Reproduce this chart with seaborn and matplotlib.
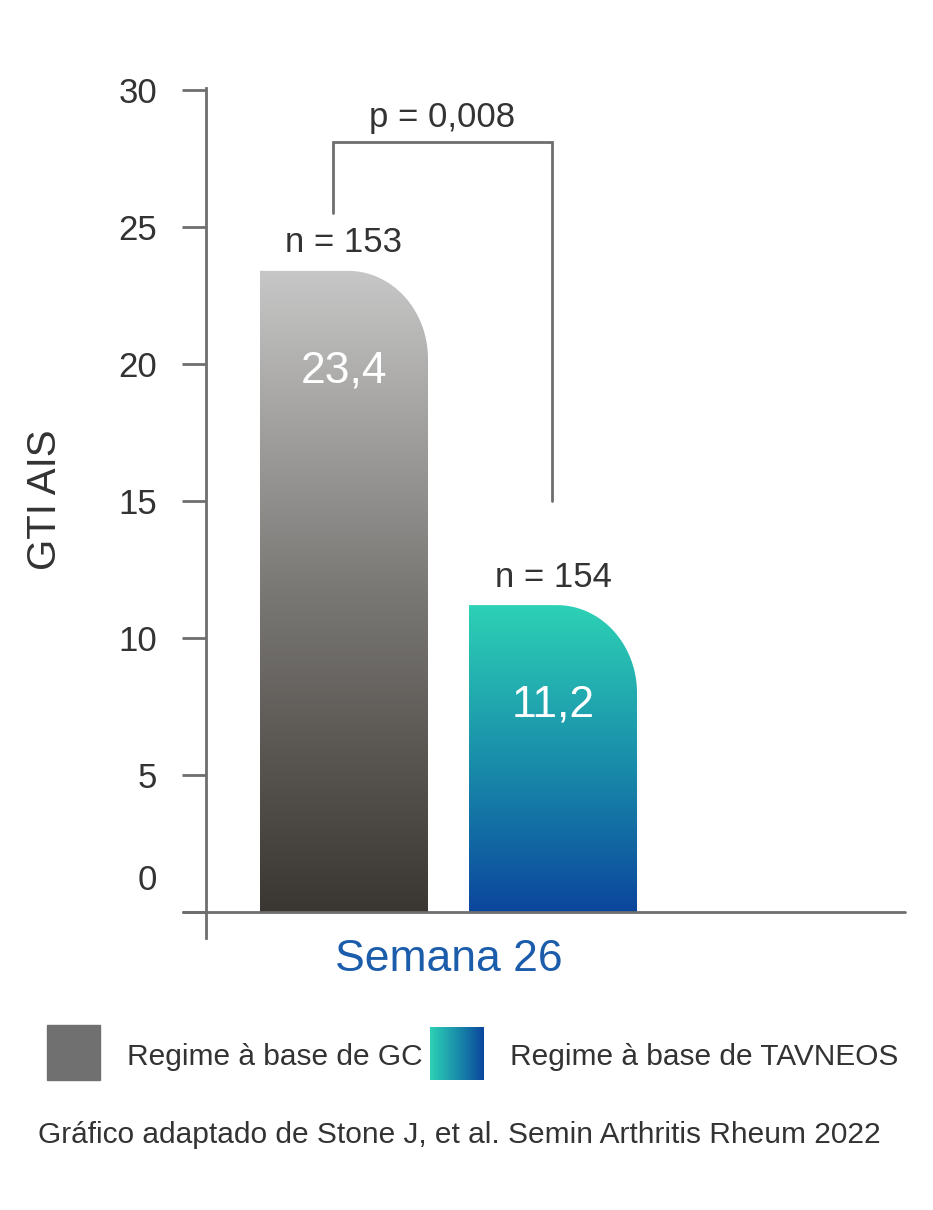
import numpy as np
import pandas as pd
import matplotlib
matplotlib.use('Agg')
import matplotlib.pyplot as plt
import seaborn as sns
from matplotlib.path import Path
from matplotlib.patches import PathPatch, Rectangle
from matplotlib.colors import LinearSegmentedColormap

# dados do gráfico
grupos = ['Regime à base de GC', 'Regime à base de TAVNEOS']
valores = [23.4, 11.2]
rotulos_valor = ['23,4', '11,2']
rotulos_n = ['n = 153', 'n = 154']
semana = 'Semana 26'
p_valor = 'p = 0,008'
y_ticks = [0, 5, 10, 15, 20, 25, 30]
fonte = 'Gráfico adaptado de Stone J, et al. Semin Arthritis Rheum 2022'

# gradientes (de baixo para cima)
cores_gc = ['#3a3631', '#7a7875', '#c7c7c7']
cores_tav = ['#0b469c', '#1a8fab', '#2dd1b5']
cor_texto = '#333333'
cor_eixo = '#6e6e6e'

sns.set_theme(style='white')
plt.rcParams['font.family'] = ['Liberation Sans', 'DejaVu Sans']

W, H = 933, 1210
fig = plt.figure(figsize=(W / 100, H / 100), dpi=100)
ax = fig.add_axes([206 / W, 1 - 938 / H, 699 / W, (938 - 88) / H])

df = pd.DataFrame({'grupo': grupos, 'valor': valores})
sns.barplot(data=df, x='grupo', y='valor', width=0.804, ax=ax, color='#888888')

px_y = 822 / 30.0   # pixels por unidade em y
px_x = 209.0        # pixels por categoria em x
rx, ry = 80 / px_x, 88 / px_y


def caminho_barra(x0, w, h):
    x1 = x0 + w
    t = np.linspace(0, np.pi / 2, 40)
    arc_x = (x1 - rx) + rx * np.sin(t)
    arc_y = (h - ry) + ry * np.cos(t)
    verts = [(x0, 0), (x0, h)] + list(zip(arc_x, arc_y)) + [(x1, 0), (x0, 0)]
    return Path(verts, closed=True)


grad = np.linspace(0, 1, 256).reshape(-1, 1)
for barra, cores in zip(ax.patches, [cores_gc, cores_tav]):
    x0, w, h = barra.get_x(), barra.get_width(), barra.get_height()
    barra.set_visible(False)
    cmap = LinearSegmentedColormap.from_list('g', cores)
    im = ax.imshow(grad, extent=[x0, x0 + w, 0, h], origin='lower', cmap=cmap,
                   aspect='auto', zorder=2)
    im.set_clip_path(PathPatch(caminho_barra(x0, w, h), transform=ax.transData))

# rótulos
for i, (v, lv, ln) in enumerate(zip(valores, rotulos_valor, rotulos_n)):
    ax.text(i, v - 100 / px_y, lv, ha='center', va='center', color='white',
            fontsize=32, zorder=3)
    ax.text(i, v + 28 / px_y, ln, ha='center', va='center', color=cor_texto,
            fontsize=25, zorder=3)

# colchete do p-valor
y_top = valores[0] + 4.7
ax.plot([-0.053, -0.053, 0.995, 0.995],
        [valores[0] + 2.1, y_top, y_top, valores[1] + 3.8],
        color=cor_eixo, lw=2, solid_joinstyle='miter', zorder=3)
ax.text(0.47, y_top + 25 / px_y, p_valor, ha='center', va='center',
        color=cor_texto, fontsize=25)

# eixos
ax.set_xlim(-0.660, 2.684)
ax.set_ylim(-26 / px_y, 30 + 2 / px_y)
ax.set_yticks(y_ticks)
ax.set_yticklabels([''] + [str(t) for t in y_ticks[1:]], fontsize=25, color=cor_texto)
ax.tick_params(axis='y', length=17, width=2, color=cor_eixo, pad=18, left=True)
ax.text(-49 / 699, 32 / px_y, '0', transform=ax.get_yaxis_transform(),
        ha='right', va='center', fontsize=25, color=cor_texto)
ax.set_xticks([0.5])
ax.set_xticklabels([semana], fontsize=32, color='#1b5cab')
ax.tick_params(axis='x', length=0, pad=1)
ax.set_xlabel('')
ax.set_ylabel('')
for lado in ['top', 'right', 'bottom']:
    ax.spines[lado].set_visible(False)
ax.spines['left'].set_color(cor_eixo)
ax.spines['left'].set_linewidth(2)
ax.plot([-23 / 699, 1.0], [0, 0], transform=ax.get_yaxis_transform(),
        color=cor_eixo, lw=2, clip_on=False, zorder=4)

fig.text(45 / W, 1 - 500 / H, 'GTI AIS', rotation=90, ha='center', va='center',
         fontsize=29, color=cor_texto)

# legenda
fig.patches.append(Rectangle((47 / W, 1 - 1080 / H), 53 / W, 55 / H,
                             transform=fig.transFigure, color='#707070'))
ax_leg = fig.add_axes([430 / W, 1 - 1080 / H, 54 / W, 53 / H])
ax_leg.imshow(grad.T, cmap=LinearSegmentedColormap.from_list('l', cores_tav[::-1]),
              aspect='auto', extent=[0, 1, 0, 1])
ax_leg.axis('off')
fig.text(127 / W, 1 - 1057 / H, grupos[0], ha='left', va='center',
         fontsize=21.5, color=cor_texto)
fig.text(510 / W, 1 - 1057 / H, grupos[1], ha='left', va='center',
         fontsize=21.5, color=cor_texto)
fig.text(38 / W, 1 - 1135 / H, fonte, ha='left', va='center',
         fontsize=21.5, color=cor_texto)

fig.savefig('out.png', dpi=100, facecolor='white')
